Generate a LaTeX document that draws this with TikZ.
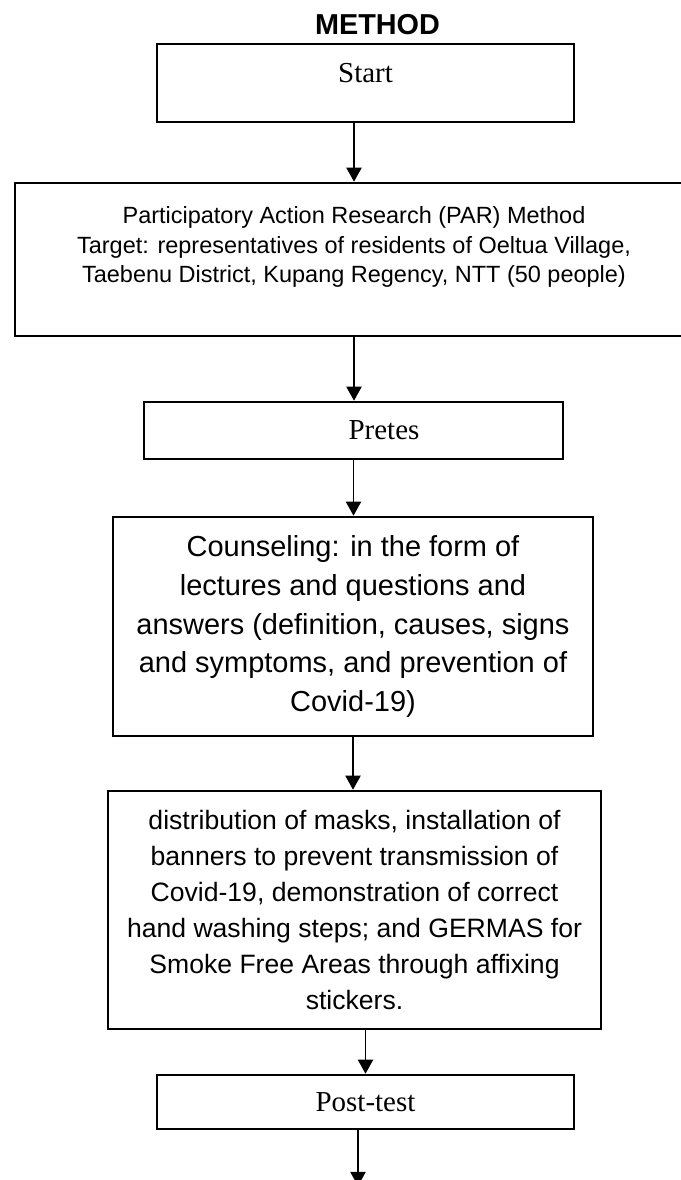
\documentclass[tikz,border=0pt]{standalone}
\usepackage{fontspec}
\setmainfont{Liberation Serif}
\newfontfamily\arialfont{Liberation Sans}
\usetikzlibrary{arrows.meta}

\begin{document}
\begin{tikzpicture}[x=0.25mm, y=-0.25mm,
    box/.style={draw, line width=1.8pt, inner sep=0pt, align=center},
    flow/.style={line width=1.4pt, -{Triangle[width=10.7pt,length=10pt]}},
    serifbig/.style={font=\fontsize{20.6pt}{24pt}\selectfont}]
    \useasboundingbox (0,0) rectangle (680,1180);
    % title
    \node[anchor=base, font=\arialfont\bfseries\fontsize{20.5pt}{24pt}\selectfont] (title) at (377.5,35) {METHOD};
    % boxes
    \node[box, serifbig, minimum width=104.25mm, minimum height=19.5mm,
        text height=14pt, text depth=14pt] (start) at (365.5,83) {Start};
    \node[box, minimum width=169.5mm, minimum height=38.25mm,
        font=\arialfont\fontsize{16.7pt}{21.3pt}\selectfont] (par) at (354,259.5)
        {Participatory Action Research (PAR) Method\\
         Target: representatives of residents of Oeltua Village,\\
         Taebenu District, Kupang Regency, NTT (50 people)\\ \mbox{}};
    \node[box, serifbig, minimum width=104.75mm, minimum height=14.25mm] (pretes) at (353.5,430.5)
        {\hspace*{15.25mm}Pretes};
    \node[box, minimum width=120mm, minimum height=54.75mm,
        font=\arialfont\fontsize{20.6pt}{27.7pt}\selectfont] (couns) at (353,626.5)
        {Counseling: in the form of\\
         lectures and questions and\\
         answers (definition, causes, signs\\
         and symptoms, and prevention of\\
         Covid-19)};
    \node[box, minimum width=123.25mm, minimum height=59.5mm,
        font=\arialfont\fontsize{18.9pt}{25.6pt}\selectfont] (dist) at (354.5,910)
        {distribution of masks, installation of\\
         banners to prevent transmission of\\
         Covid-19, demonstration of correct\\
         hand washing steps; and GERMAS for\\
         Smoke Free Areas through affixing\\
         stickers.};
    \node[box, serifbig, minimum width=104.25mm, minimum height=13.5mm] (post) at (365.5,1102) {Post-test};
    \coordinate (end) at (358,1186);
    % arrows
    \draw[flow] (start.south -| par.north) -- (par.north);
    \draw[flow] (par.south) -- (par.south |- pretes.north);
    \draw[flow] (pretes.south) -- (pretes.south |- couns.north);
    \draw[flow] (couns.south) -- (couns.south |- dist.north);
    \draw[flow] (dist.south -| post.north) -- (post.north);
    \draw[flow] (post.south -| end) -- (end);
\end{tikzpicture}
\end{document}
